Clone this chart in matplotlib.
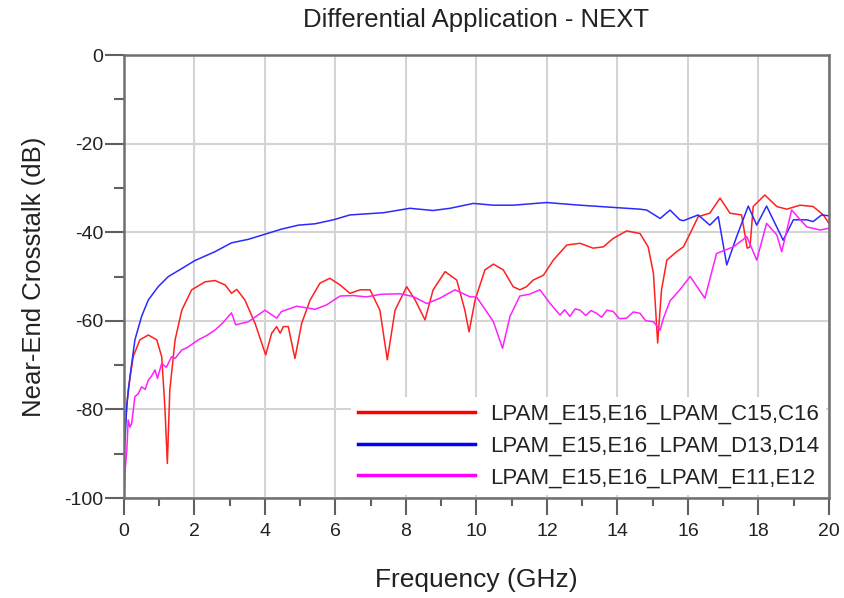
import numpy as np
import matplotlib
matplotlib.use("Agg")
import matplotlib.pyplot as plt
from matplotlib.ticker import MultipleLocator

plt.rcParams['font.family'] = ['Liberation Sans', 'DejaVu Sans']
plt.rcParams['axes.unicode_minus'] = False

# LPAM_E15,E16_LPAM_C15,C16
red_f = [0.02, 0.12, 0.26, 0.45, 0.69, 0.93, 1.07, 1.16, 1.23, 1.3,
         1.45, 1.64, 1.92, 2.3, 2.58, 2.87, 3.05, 3.2, 3.43, 3.72,
         4.02, 4.19, 4.33, 4.43, 4.52, 4.66, 4.85, 5.04, 5.28, 5.56,
         5.84, 6.13, 6.41, 6.70, 6.98, 7.26, 7.47, 7.69, 8.02, 8.26,
         8.54, 8.77, 9.11, 9.44, 9.67, 9.79, 9.96, 10.24, 10.48, 10.76,
         11.04, 11.23, 11.42, 11.61, 11.9, 12.18, 12.56, 12.94, 13.31, 13.6,
         13.88, 14.26, 14.64, 14.87, 15.02, 15.14, 15.25, 15.4, 15.68, 15.87,
         16.06, 16.29, 16.62, 16.91, 17.19, 17.52, 17.68, 17.76, 17.85, 18.18,
         18.52, 18.8, 19.18, 19.55, 19.84, 20.0]
red_db = [-85, -75.6, -68.1, -64.3, -63.2, -64.3, -68.1, -79.4, -92.2, -75.6,
          -64.3, -57.6, -53, -51.2, -50.9, -51.9, -53.8, -52.9, -55.3, -60.6,
          -67.7, -62.8, -61.3, -62.8, -61.3, -61.3, -68.5, -60.6, -55.3, -51.5,
          -50.4, -51.9, -53.8, -53, -53, -57.6, -68.8, -57.6, -52.3, -55.3,
          -59.8, -53, -48.9, -50.8, -57.6, -62.5, -55.3, -48.5, -47.2, -48.5,
          -52.3, -53, -52.3, -50.8, -49.7, -46.3, -42.9, -42.5, -43.6, -43.3,
          -41.4, -39.7, -40.3, -43.3, -49.3, -65.0, -53, -46.3, -44.4, -43.3,
          -40.3, -36.5, -35.7, -32.3, -35.7, -36.1, -43.6, -43.3, -34.2, -31.6,
          -34.2, -34.8, -33.9, -34.2, -36.1, -38]

# LPAM_E15,E16_LPAM_D13,D14
blue_f = [0.0, 0.03, 0.08, 0.17, 0.31, 0.5, 0.69, 0.97, 1.26, 1.64,
          2.01, 2.58, 3.05, 3.53, 4.02, 4.47, 4.95, 5.42, 5.94, 6.41,
          7.36, 8.11, 8.77, 9.25, 9.91, 10.48, 11.04, 11.99, 12.94, 13.88,
          14.64, 14.83, 15.21, 15.49, 15.77, 15.87, 16.29, 16.62, 16.86, 17.1,
          17.38, 17.71, 17.95, 18.23, 18.7, 18.99, 19.37, 19.55, 19.79, 20.0]
blue_db = [-90, -87, -79, -72.6, -64.3, -59, -55.3, -52.3, -50, -48.2,
           -46.4, -44.4, -42.4, -41.6, -40.4, -39.3, -38.4, -38.1, -37.2, -36.1,
           -35.6, -34.6, -35.1, -34.6, -33.5, -33.9, -33.9, -33.3, -33.9, -34.4,
           -34.8, -35.0, -36.9, -35, -37.2, -37.4, -36.1, -38.4, -36.5, -47.4,
           -41, -34.1, -38.4, -34.1, -41.8, -37.2, -37.2, -37.6, -36.1, -36.3]

# LPAM_E15,E16_LPAM_E11,E12
mag_f = [0.0, 0.03, 0.08, 0.12, 0.17, 0.22, 0.31, 0.4, 0.5, 0.6,
         0.69, 0.78, 0.88, 0.95, 1.07, 1.2, 1.35, 1.45, 1.64, 1.8,
         2.11, 2.35, 2.58, 2.8, 3.05, 3.17, 3.53, 4.0, 4.33, 4.47,
         4.9, 5.42, 5.75, 6.13, 6.5, 6.88, 7.3, 7.83, 8.2, 8.59,
         8.96, 9.39, 9.82, 10.0, 10.38, 10.48, 10.74, 10.95, 11.23, 11.5,
         11.8, 12.09, 12.37, 12.5, 12.65, 12.8, 12.94, 13.1, 13.25, 13.41,
         13.55, 13.7, 13.88, 14.05, 14.26, 14.45, 14.64, 14.8, 15.02, 15.1,
         15.21, 15.3, 15.49, 15.77, 16.06, 16.48, 16.81, 17.29, 17.67, 17.95,
         18.23, 18.52, 18.66, 18.94, 19.37, 19.75, 20.0]
mag_db = [-100, -94, -89.2, -82.4, -84, -83.1, -77.1, -76.5, -74.9, -75.5,
          -73.4, -72.5, -71.1, -73, -69.6, -70.5, -68.1, -68.5, -66.6, -66.0,
          -64.3, -63.3, -62.1, -60.5, -58.2, -60.9, -60.2, -57.6, -59.4, -57.9,
          -56.7, -57.4, -56.4, -54.4, -54.3, -54.6, -54.0, -53.9, -54.5, -56.1,
          -54.9, -53, -54.6, -54.6, -59, -60.2, -66.2, -59, -54.4, -54.0,
          -53, -56.1, -58.7, -57.5, -59.0, -57.3, -57.6, -58.8, -57.7, -58.3,
          -59.2, -57.6, -57.9, -59.5, -59.4, -58.0, -58.3, -60.0, -60.2, -61.0,
          -62.1, -59.5, -55.5, -53, -50, -54.9, -44.8, -43.3, -41, -46.3,
          -38, -40.6, -44.4, -35, -38.8, -39.5, -39.1]

labels = ["LPAM_E15,E16_LPAM_C15,C16",
          "LPAM_E15,E16_LPAM_D13,D14",
          "LPAM_E15,E16_LPAM_E11,E12"]


def main():
    fig = plt.figure(figsize=(8.44, 5.98), dpi=100)
    ax = fig.add_axes([0.1469, 0.1672, 0.8353, 0.7408])

    ax.plot(red_f, red_db, color='#ff2020', lw=1.1)
    ax.plot(blue_f, blue_db, color='#2a2aff', lw=1.1)
    ax.plot(mag_f, mag_db, color='#ff20ff', lw=1.1)

    ax.set_xlim(0, 20)
    ax.set_ylim(-100, 0)
    ax.xaxis.set_major_locator(MultipleLocator(2))
    ax.xaxis.set_minor_locator(MultipleLocator(1))
    ax.yaxis.set_major_locator(MultipleLocator(20))
    ax.yaxis.set_minor_locator(MultipleLocator(10))
    ax.grid(True, which='major', color='#d4d4d4', lw=1.5)
    ax.set_axisbelow(True)

    for s in ax.spines.values():
        s.set_color('#707070')
        s.set_linewidth(1.8)
    ax.tick_params(which='both', width=1.5, color='#606060',
                   labelsize=14, labelcolor='#222222')
    ax.tick_params(axis='y', which='major', length=14, pad=1)
    ax.tick_params(axis='y', which='minor', length=7)
    ax.tick_params(axis='x', which='major', length=12, pad=6)
    ax.tick_params(axis='x', which='minor', length=6)

    ax.set_title("Differential Application - NEXT", fontsize=18.5, pad=20, color='#222222')
    ax.set_xlabel("Frequency (GHz)", fontsize=19, labelpad=20, color='#222222')
    ax.set_ylabel("Near-End Crosstalk (dB)", fontsize=18.5, labelpad=13, color='#222222')

    handles = [plt.Line2D([], [], color='red', lw=2.5),
               plt.Line2D([], [], color='blue', lw=2.5),
               plt.Line2D([], [], color='magenta', lw=2.5)]
    leg = ax.legend(handles, labels, loc='lower left', bbox_to_anchor=(0.322, 0.007),
                    fontsize=16, handlelength=5.3, handletextpad=0.68,
                    labelspacing=0.48, frameon=True, fancybox=False,
                    borderpad=0.3, borderaxespad=0.0)
    leg.get_frame().set_facecolor('white')
    leg.get_frame().set_edgecolor('none')
    leg.get_frame().set_alpha(1)
    for t in leg.get_texts():
        t.set_color('#222222')

    fig.savefig("out.png", dpi=100)


if __name__ == "__main__":
    main()
